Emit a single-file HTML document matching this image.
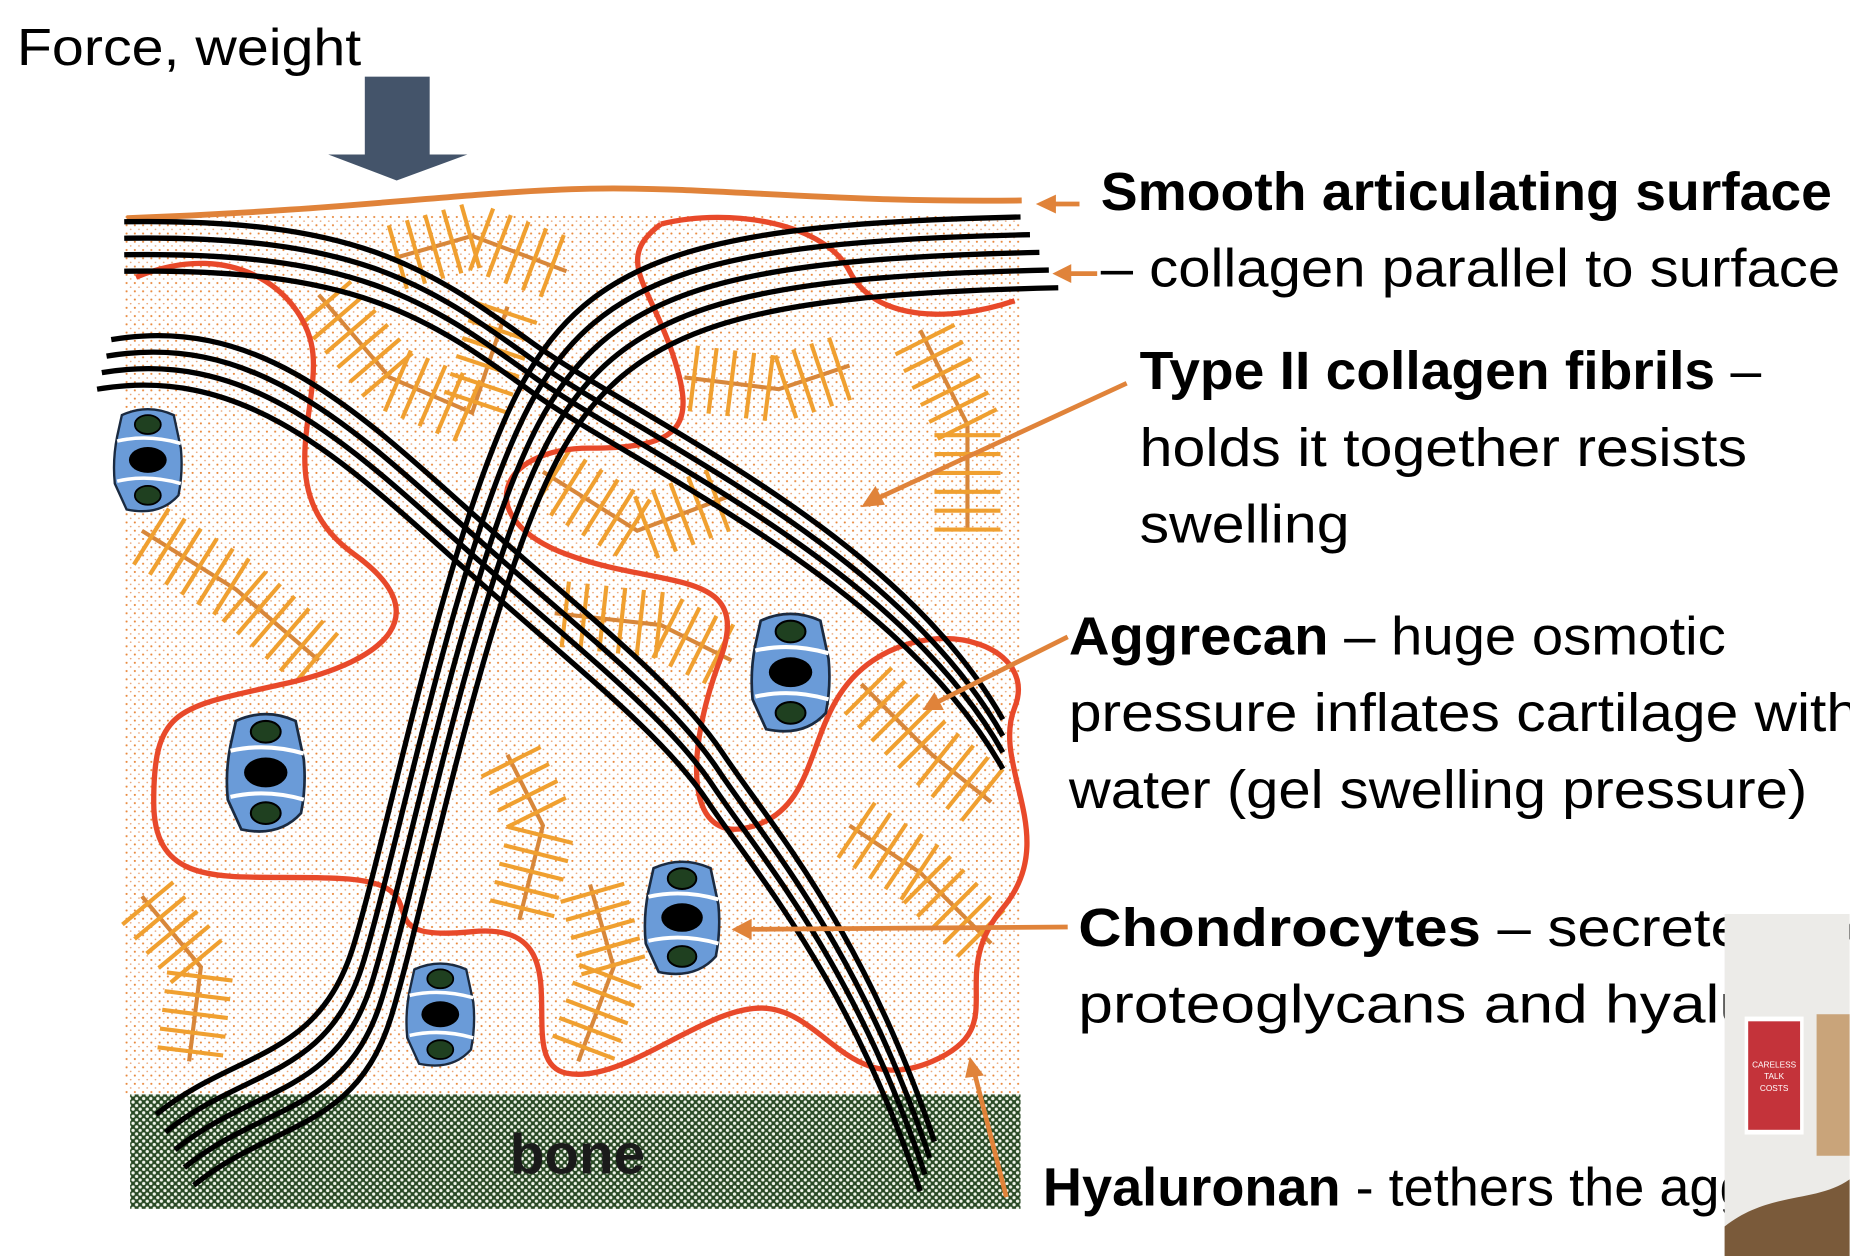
<!DOCTYPE html>
<html><head><meta charset="utf-8"><style>
html,body{margin:0;padding:0;background:#fff;}
svg{display:block;}
text{font-family:"Liberation Sans",sans-serif;}
</style></head><body>
<svg id="fig" width="1850" height="1256" viewBox="0 0 1568 1065" xmlns="http://www.w3.org/2000/svg">
<defs>
<pattern id="dots" width="7" height="7" patternUnits="userSpaceOnUse"><rect width="7" height="7" fill="#fff"/><circle cx="2" cy="2" r="0.9" fill="#e8883c"/><circle cx="5.5" cy="5.5" r="0.7" fill="#e8a070"/></pattern>
<pattern id="bonepat" width="6" height="6" patternUnits="userSpaceOnUse"><rect width="6" height="6" fill="#2a4a26"/><circle cx="1.5" cy="1.5" r="1.4" fill="#f0f5ea"/><circle cx="4.5" cy="4.5" r="1.4" fill="#f0f5ea"/></pattern>
</defs>
<rect width="1568" height="1065" fill="#fff"/>
<text x="14" y="55" font-size="44" textLength="292" lengthAdjust="spacingAndGlyphs">Force, weight</text>
<g fill="#44546a">
<rect x="309" y="65" width="55" height="67"/><polygon points="278,131 396,131 336,153"/></g>
<rect x="105" y="183" width="760" height="747" fill="url(#dots)"/>
<rect x="110" y="928" width="755" height="97" fill="url(#bonepat)"/>
<text x="432" y="995" font-size="48" font-weight="bold" font-family="Liberation Serif" fill="#1a1a1a">bone</text>
<path d="M107,185 C300,178 400,162 500,160 S700,172 866,170" stroke="#e0833a" stroke-width="5" fill="none"/>
<g id="brushes" stroke="#f0a030" stroke-width="3.5" fill="none"></g>
<g id="loops" stroke="#e8492a" stroke-width="4.5" fill="none">
<path d="M115,235 C200,200 260,250 265,300 S230,420 300,470 S330,560 240,580 S130,600 130,680 S200,740 290,745 S300,800 400,790 S430,900 480,910 S600,850 650,855 S720,930 790,900 S800,830 850,770 S840,650 860,600 S800,520 740,560 S700,680 640,700 S580,640 610,560 S560,500 480,470 S420,380 500,380 S590,360 570,300 S520,220 560,190"/>
<path d="M560,190 C620,175 700,190 720,230 S800,275 860,255"/>
</g>
<g id="fibres" stroke="#000" stroke-width="4.5" fill="none"></g>
<g id="cells"></g>
<g font-size="46">
<text x="933" y="178" textLength="620" lengthAdjust="spacingAndGlyphs"><tspan font-weight="bold">Smooth articulating surface</tspan></text>
<text x="933" y="243" textLength="627" lengthAdjust="spacingAndGlyphs">– collagen parallel to surface</text>
<text x="966" y="330" textLength="527" lengthAdjust="spacingAndGlyphs"><tspan font-weight="bold">Type II collagen fibrils</tspan> –</text>
<text x="966" y="395" textLength="515" lengthAdjust="spacingAndGlyphs">holds it together resists</text>
<text x="966" y="460" textLength="178" lengthAdjust="spacingAndGlyphs">swelling</text>
<text x="906" y="555" textLength="557" lengthAdjust="spacingAndGlyphs"><tspan font-weight="bold">Aggrecan</tspan> – huge osmotic</text>
<text x="906" y="620" textLength="670" lengthAdjust="spacingAndGlyphs">pressure inflates cartilage with</text>
<text x="906" y="685" textLength="626" lengthAdjust="spacingAndGlyphs">water (gel swelling pressure)</text>
<text x="914" y="802" textLength="680" lengthAdjust="spacingAndGlyphs"><tspan font-weight="bold">Chondrocytes</tspan> – secretes coll</text>
<text x="914" y="867" textLength="620" lengthAdjust="spacingAndGlyphs">proteoglycans and hyaluro</text>
<text x="884" y="1022" textLength="640" lengthAdjust="spacingAndGlyphs"><tspan font-weight="bold">Hyaluronan</tspan> - tethers the aggre</text>
</g>
<g stroke="#e0833a" stroke-width="4" fill="#e0833a">
<line x1="915" y1="173" x2="890" y2="173"/><polygon points="878,173 895,165 895,181" stroke="none"/>
<line x1="930" y1="232" x2="905" y2="232"/><polygon points="892,232 908,224 908,240" stroke="none"/>
<line x1="955" y1="325" x2="745" y2="422"/><polygon points="730,430 742,412 750,428" stroke="none"/>
<line x1="905" y1="540" x2="795" y2="595"/><polygon points="782,602 792,587 800,602" stroke="none"/>
<line x1="905" y1="786" x2="635" y2="788"/><polygon points="620,788 637,779 637,797" stroke="none"/>
<line x1="853" y1="1015" x2="826" y2="910"/><polygon points="822,896 834,912 818,914" stroke="none"/>
</g>
<g>
<rect x="1462" y="775" width="106" height="290" fill="#ecebe8"/>
<rect x="1540" y="860" width="28" height="120" fill="#c9a47a"/>
<rect x="1479" y="862" width="50" height="100" fill="#fff"/>
<rect x="1482" y="866" width="44" height="92" fill="#c4333a"/>
<text x="1504" y="905" font-size="7" fill="#fff" text-anchor="middle">CARELESS</text>
<text x="1504" y="915" font-size="7" fill="#fff" text-anchor="middle">TALK</text>
<text x="1504" y="925" font-size="7" fill="#fff" text-anchor="middle">COSTS</text>
<path d="M1462,1040 C1500,1010 1540,1020 1568,1000 L1568,1065 L1462,1065Z" fill="#7a5a3a"/>
</g>
</svg>
<script>
const fibres=document.getElementById('fibres');
const bundles=[
 {d:"M105,188 C300,185 360,225 450,290 S760,450 850,610",dx:0,dy:14,n:4},
 {d:"M82,330 C200,310 280,380 380,470 S560,620 600,680 S720,830 780,1010",dx:4,dy:-14,n:4},
 {d:"M865,184 C600,190 500,215 440,330 S330,700 300,800 S200,890 132,945",dx:8,dy:15,n:5}
];
bundles.forEach((b,bi)=>{for(let i=0;i<b.n;i++){const p=document.createElementNS('http://www.w3.org/2000/svg','path');
p.setAttribute('d',b.d);p.setAttribute('transform','translate('+(b.dx*i)+','+(b.dy*i)+')');


fibres.appendChild(p);}});
const brushes=document.getElementById('brushes');
const spines=[[[270,250],[330,320],[400,350],[430,260]],[[120,450],[200,500],[270,560]],[[460,400],[540,450],[620,420]],[[580,320],[660,330],[720,310]],[[780,280],[820,360],[820,450]],[[470,520],[560,530],[620,560]],[[120,760],[170,820],[160,900]],[[430,640],[460,700],[440,780]],[[500,750],[520,820],[490,900]],[[730,580],[790,640],[840,680]],[[720,700],[780,740],[840,800]],[[330,220],[400,200],[480,230]]];
spines.forEach(s=>{let d='M'+s[0].join(',');for(let i=1;i<s.length;i++)d+=' L'+s[i].join(',');
const p=document.createElementNS('http://www.w3.org/2000/svg','path');p.setAttribute('d',d);p.setAttribute('stroke','#d8873a');


brushes.appendChild(p);
for(let i=0;i<s.length-1;i++){const [x1,y1]=s[i],[x2,y2]=s[i+1];const L=Math.hypot(x2-x1,y2-y1);const nx=-(y2-y1)/L,ny=(x2-x1)/L;
for(let t=0.1;t<1;t+=16/L){const cx=x1+(x2-x1)*t,cy=y1+(y2-y1)*t;const l=document.createElementNS('http://www.w3.org/2000/svg','line');
l.setAttribute('x1',cx-nx*28);l.setAttribute('y1',cy-ny*28);l.setAttribute('x2',cx+nx*28);l.setAttribute('y2',cy+ny*28);


brushes.appendChild(l);}}});
const cells=document.getElementById('cells');
const cellPos=[[125,390,1],[225,655,1.15],[670,570,1.15],[578,778,1.1],[373,860,1]];
cellPos.forEach(([x,y,s])=>{const g=document.createElementNS('http://www.w3.org/2000/svg','g');
g.setAttribute('transform','translate('+x+','+y+') scale('+s+')');


g.innerHTML='<path d="M-22,-38 Q0,-48 22,-38 L28,-10 Q30,10 26,30 Q10,48 -18,42 L-28,20 Q-30,0 -26,-20Z" fill="#6a9bd8" stroke="#1a2a40" stroke-width="2"/><path d="M-26,-16 Q0,-22 28,-14 M-26,18 Q0,12 28,20" stroke="#fff" stroke-width="3" fill="none"/><ellipse cx="0" cy="-30" rx="11" ry="8" fill="#1f4020" stroke="#000" stroke-width="1.5"/><ellipse cx="0" cy="0" rx="16" ry="11" fill="#000"/><ellipse cx="0" cy="30" rx="11" ry="8" fill="#1f4020" stroke="#000" stroke-width="1.5"/>';
cells.appendChild(g);});
</script>
</body></html>
